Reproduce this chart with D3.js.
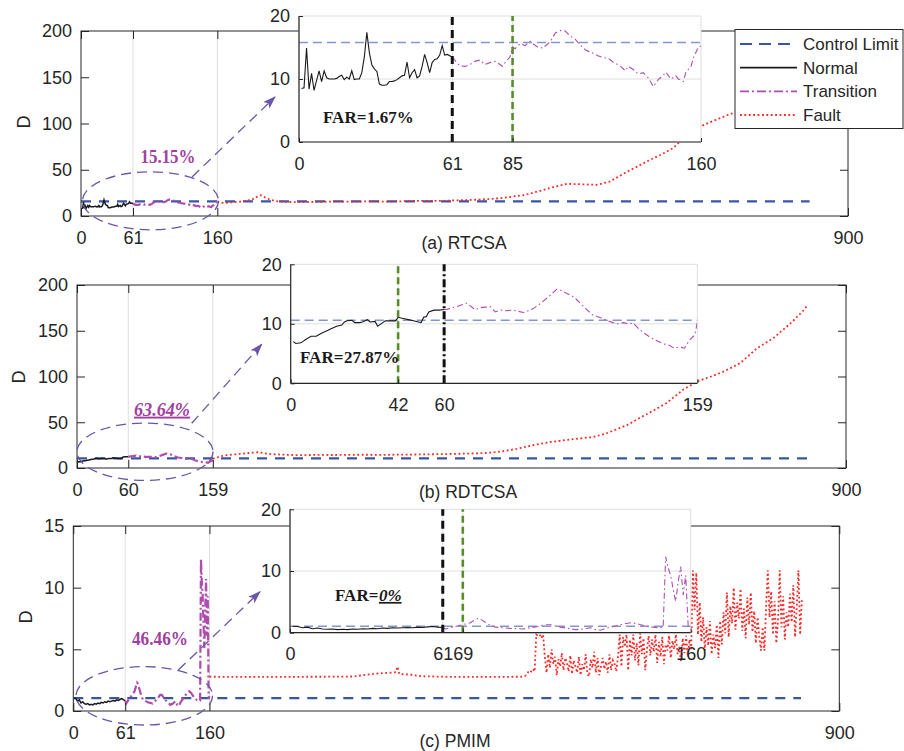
<!DOCTYPE html>
<html>
<head>
<meta charset="utf-8">
<script src="https://cdn.jsdelivr.net/npm/d3@7"></script>
<style>
  body { margin: 0; background: #fff; }
  svg { display: block; }
</style>
</head>
<body>
<svg id="chart" width="904" height="751"></svg>
<script>
// ---------------- data ----------------
const panelTitles = ["(a) RTCSA", "(b) RDTCSA", "(c) PMIM"];
const legendLabels = ["Control Limit", "Normal", "Transition", "Fault"];
const controlLimits = [15.8, 10.6, 1.05];
const lastSample = 855;

const mainXTicks = [[0, 61, 160, 900], [0, 60, 159, 900], [0, 61, 160, 900]];
const mainXGrid = [[61, 160], [60, 159], [61, 160]];
const mainYTicks = [[0, 50, 100, 150, 200], [0, 50, 100, 150, 200], [0, 5, 10, 15]];
const mainYMax = [200, 200, 15];
const insetXTicks = [[0, 61, 85, 160], [0, 42, 60, 159], [0, 61, 69, 160]];
const insetXMax = [160, 159, 160];
const insetYTicks = [0, 10, 20];
const insetYMax = 20;

// onset of fault (black) and first alarm (green) in each zoomed view
const faultOnset = [61, 60, 61];
const firstAlarm = [85, 42, 69];

const detectionRates = ["15.15%", "63.64%", "46.46%"];
const falseAlarmRates = ["1.67%", "27.87%", "0%"];

// (a) RTCSA
const rtcsaNormal = [[1,8.5],[2,8.6],[3,14.9],[4,8.4],[5,10.9],[6,8.2],[7,9.8],[8,11.3],[9,9.6],[10,11.3],
  [11,10.2],[12,10.0],[13,10.0],[14,10.0],[15,10.1],[16,10.4],[17,10.6],[18,9.9],[19,10.3],[20,10.0],
  [21,11.3],[22,9.9],[23,10.0],[24,10.0],[25,11.0],[26,13.5],[27,17.4],[28,14.2],[29,12.2],[30,11.6],
  [31,11.2],[32,9.2],[33,9.0],[34,9.0],[35,9.1],[36,9.6],[37,9.6],[38,9.7],[39,9.9],[40,10.2],
  [41,10.5],[42,10.6],[43,12.7],[44,10.2],[45,11.0],[46,11.5],[47,10.2],[48,10.5],[49,12.0],[50,13.9],
  [51,12.6],[52,11.0],[53,12.6],[54,13.1],[55,13.2],[56,13.8],[57,15.3],[58,13.8],[59,13.9],[60,13.7],[61,13.5]];
const rtcsaTransition = [[61,13.5],[62,13.0],[64,12.1],[66,12.0],[68,12.3],[70,12.8],[72,13.0],[74,12.3],
  [76,12.6],[78,12.8],[80,12.3],[81,12.0],[82,12.6],[84,13.5],[85,15.1],[86,14.8],[88,15.6],[90,15.3],
  [92,16.0],[93,15.6],[95,15.1],[97,14.9],[100,15.9],[102,17.3],[104,17.7],[106,17.6],[108,16.8],[110,16.3],
  [112,15.4],[114,14.6],[117,14.1],[119,13.7],[121,13.4],[123,13.3],[125,12.7],[128,12.0],[130,11.3],
  [131,12.0],[133,11.5],[135,10.8],[137,11.0],[139,10.2],[141,8.8],[143,9.9],[145,10.6],[146,11.1],
  [148,10.0],[150,10.5],[151,10.0],[153,9.6],[154,11.1],[156,12.0],[157,13.4],[159,15.1],[160,15.2]];
const rtcsaFault = [[160,15.2],[163,14.3],[170,14.2],[180,15.0],[190,15.8],[200,17.5],[207,21.0],[211,22.5],
  [216,20.0],[222,17.5],[230,16.0],[240,15.2],[260,15.0],[280,15.3],[300,15.8],[320,15.4],[340,15.9],
  [360,15.5],[380,16.0],[400,16.4],[420,16.3],[440,16.9],[460,17.4],[480,18.4],[492,19.3],[505,20.8],
  [521,22.8],[530,25.0],[542,28.0],[555,31.5],[570,34.7],[585,34.4],[605,33.7],[620,37.0],[641,48.0],
  [655,54.5],[668,60.8],[680,66.0],[695,73.5],[703,80.7],[715,89.0],[726,96.6],[745,104],[767,112],
  [790,121],[810,130],[830,139],[855,150]];

// (b) RDTCSA
const rdtcsaNormal = [[1,7.0],[2,6.7],[4,6.8],[6,7.4],[8,7.9],[10,7.9],[12,8.4],[14,8.8],[16,9.2],[18,9.6],
  [20,9.8],[21,10.3],[22,10.5],[24,10.6],[25,10.2],[27,10.2],[28,10.3],[30,10.7],[31,10.3],[33,10.4],
  [34,9.6],[36,10.2],[37,10.5],[39,10.5],[41,10.5],[42,11.1],[44,10.9],[46,10.7],[48,10.5],[50,10.3],
  [51,10.2],[52,11.1],[53,11.2],[54,12.0],[56,12.3],[58,12.3],[60,12.4]];
const rdtcsaTransition = [[60,12.4],[61,12.4],[63,12.7],[65,12.9],[67,13.2],[69,13.5],[70,13.1],[72,12.4],
  [74,12.7],[76,12.8],[78,12.9],[80,12.0],[82,12.3],[84,12.2],[87,12.3],[89,12.1],[91,11.9],[93,12.2],
  [95,12.6],[97,13.2],[99,13.9],[101,14.6],[103,15.4],[104,15.8],[106,15.6],[108,15.1],[110,14.7],
  [112,14.0],[114,13.1],[116,12.3],[118,11.5],[120,11.2],[122,10.9],[124,10.5],[126,10.2],[128,10.0],
  [130,10.2],[132,10.0],[134,10.1],[136,9.2],[138,8.5],[140,7.9],[142,7.4],[144,7.0],[146,6.6],[148,6.4],
  [150,5.9],[152,6.1],[154,5.9],[156,7.3],[158,8.1],[159,10.2]];
const rdtcsaFault = [[159,10.2],[162,10.8],[167,12.5],[175,14.0],[185,15.0],[195,15.8],[205,16.7],[211,17.2],
  [218,16.3],[226,15.2],[240,14.6],[260,14.0],[280,14.3],[300,14.2],[330,14.5],[360,14.4],[400,14.8],
  [430,15.2],[460,15.8],[480,16.5],[495,17.8],[515,21.0],[534,25.0],[555,28.5],[573,30.6],[590,32.5],
  [604,33.8],[620,38.0],[644,47.0],[659,55.0],[675,63.0],[690,71.0],[710,86.0],[727,95.0],[742,100],
  [756,105],[776,114.5],[796,131],[815,142],[835,158],[850,172],[855,178]];

// (c) PMIM
const pmimNormal = [[1,1.05],[3,1.0],[5,0.8],[7,0.9],[9,0.65],[11,0.75],[13,0.6],[15,0.55],[17,0.6],[19,0.5],
  [21,0.55],[23,0.5],[25,0.6],[27,0.55],[29,0.65],[31,0.6],[33,0.7],[35,0.65],[37,0.75],[39,0.7],
  [41,0.8],[43,0.75],[45,0.8],[47,0.85],[49,0.8],[51,0.9],[53,0.85],[55,0.95],[57,1.0],[59,0.9],[61,0.85]];
const pmimTransition = [[61,0.85],[62,0.6],[64,0.8],[66,1.0],[68,1.2],[70,1.4],[72,1.6],[74,2.1],[75,2.3],
  [76,2.2],[78,1.7],[80,1.2],[82,0.9],[85,0.8],[88,0.7],[91,0.65],[93,0.6],[96,0.8],[99,1.0],[102,1.3],
  [104,1.3],[106,1.1],[108,0.9],[111,0.7],[114,0.5],[117,0.6],[120,0.8],[122,0.5],[124,0.4],[126,0.7],
  [128,0.9],[130,1.1],[133,1.4],[136,1.6],[138,1.5],[140,1.3],[143,1.0],[145,0.9],[147,0.8],[149,0.85],
  [150,12.3],[151,10.5],[152,9.3],[153,7.0],[154,5.1],[155,8.2],[156,10.7],[157,6.1],[158,9.3],[159,1.0],[160,1.2]];
const pmimFaultCalm = [[160,2.78],[200,2.76],[250,2.77],[300,2.78],[330,2.8],[345,2.95],[360,3.05],
  [372,3.1],[379,3.15],[381,3.6],[383,3.0],[395,2.95],[410,2.82],[440,2.77],[480,2.76],[528,2.78]];
// from sample 530 on, every 2nd sample
const pmimBurstStart = 530;
const pmimFaultBurst = [2.8,2.9,3.1,3.3,3.2,3.4,3.2,6.2,
  6.1,6.2,5.9,6.2,4.4,3.1,
  4.6,3.5,5.0,3.8,4.4,2.9,4.2,3.6,4.7,3.3,4.3,3.9,3.2,4.5,3.0,4.1,3.6,3.1,4.4,2.9,3.8,3.3,4.6,3.0,2.8,4.2,3.5,4.8,3.1,4.3,2.9,3.6,
  4.3,3.4,4.0,3.1,4.6,3.3,4.1,3.8,3.2,4.4,
  6.2,3.6,6.0,5.2,6.2,3.3,5.8,4.5,6.2,4.1,5.5,3.7,6.3,4.6,5.9,3.3,5.0,
  6.1,4.5,5.8,4.8,6.2,3.9,5.6,4.4,6.0,3.8,5.4,4.9,6.1,4.3,5.7,5.0,6.2,4.6,5.2,4.0,5.9,4.7,6.1,4.4,5.8,5.0,
  11.4,8.2,11.2,6.2,8.8,
  5.6,7.6,4.9,6.8,5.3,7.3,4.6,6.2,5.1,7.0,4.3,
  7.3,5.4,8.0,6.3,9.6,6.0,8.5,7.1,10.0,6.6,8.8,7.5,9.9,6.5,8.3,5.9,9.2,7.0,9.6,6.4,8.1,5.5,7.6,6.0,4.9,
  6.8,4.9,8.5,11.4,7.6,9.7,6.2,8.9,5.5,7.3,11.4,6.8,9.3,5.8,8.0,6.8,9.5,7.2,10.2,6.0,8.4,11.4,6.2,9.0];
const pmimFault = pmimFaultCalm.concat(pmimFaultBurst.map((v, k) => [pmimBurstStart + 2 * k, v]));

const normalSeries = [rtcsaNormal, rdtcsaNormal, pmimNormal];
const transitionSeries = [rtcsaTransition, rdtcsaTransition, pmimTransition];
const faultSeries = [rtcsaFault, rdtcsaFault, pmimFault];

// ---------------- layout & style ----------------
const layout = [
  { main: {l: 81, r: 848, t: 31, b: 216}, inset: {l: 299, r: 701, t: 16, b: 142},
    ell: {cx: 150.5, cy: 200.8, rx: 68, ry: 29}, arrow: [192, 177, 275, 97],
    rate: {x: 168, y: 156, w: 55}, far: {x: 323, y: 117}, title: {x: 464, y: 243}, dLabel: {x: 24, y: 122} },
  { main: {l: 77, r: 846, t: 285, b: 468}, inset: {l: 290.7, r: 697.3, t: 264.3, b: 383.3},
    ell: {cx: 145, cy: 451.7, rx: 68, ry: 28.7}, arrow: [191.7, 423.3, 261.7, 344.3],
    rate: {x: 162, y: 409, w: 56}, far: {x: 300, y: 357}, title: {x: 468, y: 492}, dLabel: {x: 19, y: 377} },
  { main: {l: 73.3, r: 839.3, t: 526, b: 711}, inset: {l: 290, r: 690.7, t: 509.3, b: 632.7},
    ell: {cx: 144.3, cy: 695.8, rx: 68.3, ry: 29.2}, arrow: [178.3, 670, 260, 591.7],
    rate: {x: 160, y: 638, w: 56}, far: {x: 335, y: 595}, title: {x: 455, y: 741}, dLabel: {x: 26, y: 617} }
];

const C = {
  axis: "#262626", grid: "#dedede", normal: "#1a1a1a", transition: "#b04cb0",
  fault: "#ff2626", limit: "#3a55a8", limitLight: "#8595d3", ellipse: "#6b55a8",
  rate: "#a2409f", green: "#5a8c2c"
};
const sans = "'Liberation Sans', Arial, Helvetica, sans-serif";
const serif = "'Liberation Serif', 'Times New Roman', serif";
const tickFont = 18;

const svg = d3.select("#chart");
const defs = svg.append("defs");
defs.append("marker").attr("id", "arrowHead")
  .attr("viewBox", "0 -5 13 10").attr("refX", 12).attr("refY", 0)
  .attr("markerWidth", 13).attr("markerHeight", 10)
  .attr("markerUnits", "userSpaceOnUse").attr("orient", "auto")
  .append("path").attr("d", "M0,-4.5L13,0L0,4.5L3,0Z").attr("fill", C.ellipse);

function styleAxis(sel) {
  sel.select(".domain").remove();
  sel.selectAll("line").attr("stroke", C.axis);
  sel.selectAll("text").attr("fill", C.axis).attr("font-size", tickFont).attr("font-family", sans);
  sel.attr("font-family", sans).attr("font-size", tickFont);
}

layout.forEach((L, i) => {
  const m = L.main;
  const g = svg.append("g");
  const x = d3.scaleLinear().domain([0, 900]).range([m.l, m.r]);
  const y = d3.scaleLinear().domain([0, mainYMax[i]]).range([m.b, m.t]);
  const line = d3.line().x(d => x(d[0])).y(d => y(d[1]));

  // vertical grid lines
  g.selectAll(null).data(mainXGrid[i]).join("line")
    .attr("x1", d => x(d)).attr("x2", d => x(d)).attr("y1", m.t).attr("y2", m.b)
    .attr("stroke", C.grid).attr("stroke-width", 1);

  defs.append("clipPath").attr("id", "mclip" + i).append("rect")
    .attr("x", m.l).attr("y", m.t).attr("width", m.r - m.l).attr("height", m.b - m.t);
  const plot = g.append("g").attr("clip-path", `url(#mclip${i})`);

  plot.append("path").datum([[0, controlLimits[i]], [lastSample, controlLimits[i]]])
    .attr("d", line).attr("fill", "none").attr("stroke", C.limit)
    .attr("stroke-width", 2.3).attr("stroke-dasharray", "10,8");
  plot.append("path").datum(normalSeries[i]).attr("d", line).attr("fill", "none")
    .attr("stroke", C.normal).attr("stroke-width", 1.5);
  plot.append("path").datum(transitionSeries[i]).attr("d", line).attr("fill", "none")
    .attr("stroke", C.transition).attr("stroke-width", 2.2).attr("stroke-dasharray", "8,3,2,3");
  plot.append("path").datum(faultSeries[i]).attr("d", line).attr("fill", "none")
    .attr("stroke", C.fault).attr("stroke-width", 1.8).attr("stroke-dasharray", "1.8,2.6");

  // axes (ticks pointing inward on all four sides)
  g.append("g").attr("transform", `translate(0,${m.b})`)
    .call(d3.axisBottom(x).tickValues(mainXTicks[i]).tickSizeInner(-8).tickSizeOuter(0)
      .tickPadding(15).tickFormat(d3.format("d"))).call(styleAxis);
  g.append("g").attr("transform", `translate(0,${m.t})`)
    .call(d3.axisTop(x).tickValues(mainXTicks[i]).tickSizeInner(-8).tickSizeOuter(0)
      .tickFormat("")).call(styleAxis);
  g.append("g").attr("transform", `translate(${m.l},0)`)
    .call(d3.axisLeft(y).tickValues(mainYTicks[i]).tickSizeInner(-8).tickSizeOuter(0)
      .tickPadding(9).tickFormat(d3.format("d"))).call(styleAxis);
  g.append("g").attr("transform", `translate(${m.r},0)`)
    .call(d3.axisRight(y).tickValues(mainYTicks[i]).tickSizeInner(-8).tickSizeOuter(0)
      .tickFormat("")).call(styleAxis);
  g.append("rect").attr("x", m.l).attr("y", m.t).attr("width", m.r - m.l).attr("height", m.b - m.t)
    .attr("fill", "none").attr("stroke", C.axis).attr("stroke-width", 1);

  // y-axis label
  g.append("text").attr("transform", `translate(${L.dLabel.x},${L.dLabel.y}) rotate(-90)`)
    .attr("text-anchor", "middle").attr("dy", "0.35em").attr("font-family", sans)
    .attr("font-size", 18).attr("fill", C.axis).text("D");

  // panel title
  g.append("text").attr("x", L.title.x).attr("y", L.title.y).attr("dy", "0.35em")
    .attr("text-anchor", "middle").attr("font-family", sans).attr("font-size", 17.5)
    .attr("fill", C.axis).text(panelTitles[i]);

  // highlighted region and pointer to the zoomed view
  g.append("ellipse").attr("cx", L.ell.cx).attr("cy", L.ell.cy).attr("rx", L.ell.rx).attr("ry", L.ell.ry)
    .attr("fill", "none").attr("stroke", C.ellipse).attr("stroke-width", 1.3).attr("stroke-dasharray", "10,6");
  g.append("line").attr("x1", L.arrow[0]).attr("y1", L.arrow[1]).attr("x2", L.arrow[2]).attr("y2", L.arrow[3])
    .attr("stroke", C.ellipse).attr("stroke-width", 1.3).attr("stroke-dasharray", "10,6")
    .attr("marker-end", "url(#arrowHead)");

  const rateText = g.append("text").attr("x", L.rate.x - L.rate.w / 2).attr("y", L.rate.y).attr("dy", "0.35em")
    .attr("font-family", serif).attr("font-weight", "bold")
    .attr("font-size", 19).attr("fill", C.rate)
    .attr("textLength", L.rate.w).attr("lengthAdjust", "spacingAndGlyphs").text(detectionRates[i]);
  if (i === 1) rateText.attr("font-style", "italic").attr("text-decoration", "underline");

  // ---------- zoomed view ----------
  const n = L.inset;
  const ig = svg.append("g");
  const xi = d3.scaleLinear().domain([0, insetXMax[i]]).range([n.l, n.r]);
  const yi = d3.scaleLinear().domain([0, insetYMax]).range([n.b, n.t]);
  const lineI = d3.line().x(d => xi(d[0])).y(d => yi(d[1]));

  ig.append("rect").attr("x", n.l).attr("y", n.t).attr("width", n.r - n.l).attr("height", n.b - n.t)
    .attr("fill", "#fff");
  ig.selectAll(null).data(insetXTicks[i]).join("line")
    .attr("x1", d => xi(d)).attr("x2", d => xi(d)).attr("y1", n.t).attr("y2", n.b)
    .attr("stroke", C.grid).attr("stroke-width", 1);
  ig.selectAll(null).data(insetYTicks).join("line")
    .attr("x1", n.l).attr("x2", n.r).attr("y1", d => yi(d)).attr("y2", d => yi(d))
    .attr("stroke", C.grid).attr("stroke-width", 1);

  defs.append("clipPath").attr("id", "iclip" + i).append("rect")
    .attr("x", n.l).attr("y", n.t).attr("width", n.r - n.l).attr("height", n.b - n.t);
  const ip = ig.append("g").attr("clip-path", `url(#iclip${i})`);

  ip.append("path").datum([[0, controlLimits[i]], [insetXMax[i], controlLimits[i]]])
    .attr("d", lineI).attr("fill", "none").attr("stroke", C.limitLight)
    .attr("stroke-width", 1.4).attr("stroke-dasharray", "9,5");
  ip.append("path").datum(normalSeries[i]).attr("d", lineI).attr("fill", "none")
    .attr("stroke", C.normal).attr("stroke-width", 1.1);
  ip.append("path").datum(transitionSeries[i]).attr("d", lineI).attr("fill", "none")
    .attr("stroke", C.transition).attr("stroke-width", 1.1).attr("stroke-dasharray", "6,3,1.5,3");

  // fault onset and first-alarm markers
  const onset = ig.append("line").attr("x1", xi(faultOnset[i])).attr("x2", xi(faultOnset[i]))
    .attr("y1", n.b).attr("y2", n.t).attr("stroke", "#111").attr("stroke-width", 3);
  onset.attr("stroke-dasharray", i === 1 ? "8,3,2,3" : "8,5");
  ig.append("line").attr("x1", xi(firstAlarm[i])).attr("x2", xi(firstAlarm[i]))
    .attr("y1", n.b).attr("y2", n.t).attr("stroke", C.green).attr("stroke-width", 2.6)
    .attr("stroke-dasharray", "7,4");

  ig.append("g").attr("transform", `translate(0,${n.b})`)
    .call(d3.axisBottom(xi).tickValues(insetXTicks[i]).tickSizeInner(-4).tickSizeOuter(0)
      .tickPadding(15).tickFormat(d3.format("d"))).call(styleAxis);
  ig.append("g").attr("transform", `translate(${n.l},0)`)
    .call(d3.axisLeft(yi).tickValues(insetYTicks).tickSizeInner(-4).tickSizeOuter(0)
      .tickPadding(9).tickFormat(d3.format("d"))).call(styleAxis);
  ig.append("line").attr("x1", n.l).attr("x2", n.r).attr("y1", n.b).attr("y2", n.b)
    .attr("stroke", C.axis).attr("stroke-width", 1.2);
  ig.append("line").attr("x1", n.l).attr("x2", n.l).attr("y1", n.t).attr("y2", n.b)
    .attr("stroke", C.axis).attr("stroke-width", 1.2);

  // false-alarm-rate label: prefix and value as two adjacent texts
  const farPrefix = ig.append("text").attr("x", L.far.x).attr("y", L.far.y).attr("dy", "0.35em")
    .attr("font-family", serif).attr("font-weight", "bold").attr("font-size", 17)
    .attr("fill", "#1a1a1a").text("FAR=");
  const prefixW = farPrefix.node().getComputedTextLength();
  const farVal = ig.append("text").attr("x", L.far.x + prefixW + 0.5).attr("y", L.far.y).attr("dy", "0.35em")
    .attr("font-family", serif).attr("font-weight", "bold").attr("font-size", 17)
    .attr("fill", "#1a1a1a").text(falseAlarmRates[i]);
  if (i === 2) farVal.attr("font-style", "italic").attr("text-decoration", "underline");
});

// ---------- legend ----------
const lg = svg.append("g");
lg.append("rect").attr("x", 735).attr("y", 29.5).attr("width", 168).attr("height", 99)
  .attr("fill", "#fff").attr("stroke", C.axis).attr("stroke-width", 1);
const legendStyles = [
  {stroke: C.limit, width: 2.2, dash: "12,7"},
  {stroke: C.normal, width: 1.6, dash: null},
  {stroke: C.transition, width: 1.6, dash: "9,3,2,3"},
  {stroke: C.fault, width: 1.8, dash: "1.8,2.6"}
];
const legendY = d3.scalePoint().domain(legendLabels).range([44, 115]);
legendLabels.forEach((lab, k) => {
  const s = legendStyles[k];
  const ln = lg.append("line").attr("x1", 740).attr("x2", 797)
    .attr("y1", legendY(lab)).attr("y2", legendY(lab))
    .attr("stroke", s.stroke).attr("stroke-width", s.width);
  if (s.dash) ln.attr("stroke-dasharray", s.dash);
  lg.append("text").attr("x", 803).attr("y", legendY(lab)).attr("dy", "0.35em")
    .attr("font-family", sans).attr("font-size", 17).attr("fill", C.axis).text(lab);
});
</script>
</body>
</html>
